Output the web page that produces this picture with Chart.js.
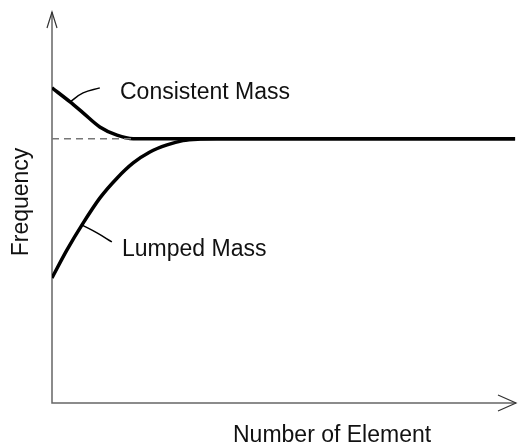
<!DOCTYPE html>
<html>
<head>
<meta charset="utf-8">
<script src="https://cdn.jsdelivr.net/npm/chart.js@4"></script>
<style>
  html, body { margin: 0; padding: 0; background: #fff; }
  #wrap { width: 526px; height: 448px; }
</style>
</head>
<body>
<div id="wrap"><canvas id="chart" width="526" height="448"></canvas></div>
<script>
// values, x and y in percent of the axis length
const consistentX = [0, 3.9, 6.7, 10.3, 14.0, 17.5, 99.8];
const consistentY = [80.6, 77.0, 74.2, 70.6, 68.5, 67.6, 67.6];
const lumpedX = [0, 3.2, 6.7, 10.3, 14.0, 17.5, 21.1, 24.8, 28.2, 31.9, 35.6, 99.8];
const lumpedY = [32.0, 39.1, 46.0, 52.4, 57.5, 61.4, 64.2, 66.0, 67.1, 67.5, 67.6, 67.6];
const limitX = [0, 17.5];
const limitY = [67.6, 67.6];
const leaderConsistentX = [10.3, 6.7, 3.9];
const leaderConsistentY = [80.6, 79.3, 77.0];
const leaderLumpedX = [6.5, 9.7, 12.9];
const leaderLumpedY = [45.5, 43.5, 41.2];
const labels = { consistent: 'Consistent Mass', lumped: 'Lumped Mass' };
const xTitle = 'Number of Element';
const yTitle = 'Frequency';

function pts(xs, ys) {
    return xs.map(function(x, i) { return { x: x, y: ys[i] }; });
}

const FONT = '23px "Liberation Sans", Arial, sans-serif';

// axes with open arrow heads, and the text
const drawing = {
    id: 'drawing',
    beforeDatasetsDraw: function(chart) {
        const ctx = chart.ctx;
        const a = chart.chartArea;
        ctx.save();
        ctx.strokeStyle = '#666';
        ctx.lineWidth = 1.5;
        ctx.beginPath();
        ctx.moveTo(a.left, a.top);
        ctx.lineTo(a.left, a.bottom);
        ctx.lineTo(a.right, a.bottom);
        ctx.stroke();
        ctx.lineWidth = 1.2;
        ctx.strokeStyle = '#333';
        ctx.beginPath();
        ctx.moveTo(a.left - 5, a.top + 16);
        ctx.lineTo(a.left, a.top);
        ctx.lineTo(a.left + 5, a.top + 16);
        ctx.moveTo(a.right - 18, a.bottom - 8);
        ctx.lineTo(a.right, a.bottom);
        ctx.lineTo(a.right - 18, a.bottom + 8);
        ctx.stroke();
        ctx.restore();
    },
    afterDraw: function(chart) {
        const ctx = chart.ctx;
        const a = chart.chartArea;
        ctx.save();
        ctx.fillStyle = '#111';
        ctx.font = FONT;
        ctx.textBaseline = 'alphabetic';
        ctx.textAlign = 'left';
        ctx.fillText(labels.consistent, a.left + 68, 99);
        ctx.fillText(labels.lumped, a.left + 70, 256);
        ctx.fillText(xTitle, 233, 442);
        ctx.translate(28, 202);
        ctx.rotate(-Math.PI / 2);
        ctx.textAlign = 'center';
        ctx.fillText(yTitle, 0, 0);
        ctx.restore();
    }
};

const curve = { borderColor: '#000', pointRadius: 0, fill: false, cubicInterpolationMode: 'monotone' };

new Chart(document.getElementById('chart'), {
    type: 'line',
    data: {
        datasets: [
            { data: pts(limitX, limitY), borderColor: '#777', borderWidth: 1.5, borderDash: [7, 5], pointRadius: 0, tension: 0 },
            Object.assign({}, curve, { data: pts(lumpedX, lumpedY), borderWidth: 3.5 }),
            Object.assign({}, curve, { data: pts(consistentX, consistentY), borderWidth: 3.5 }),
            Object.assign({}, curve, { data: pts(leaderConsistentX, leaderConsistentY), borderWidth: 1.5, cubicInterpolationMode: 'default', tension: 0.4 }),
            Object.assign({}, curve, { data: pts(leaderLumpedX, leaderLumpedY), borderWidth: 1.5, cubicInterpolationMode: 'default', tension: 0.4 })
        ]
    },
    options: {
        responsive: false,
        animation: false,
        events: [],
        layout: { padding: { left: 52, top: 12, right: 10, bottom: 45 } },
        plugins: { legend: { display: false }, tooltip: { enabled: false } },
        scales: {
            x: { type: 'linear', min: 0, max: 100, display: false },
            y: { type: 'linear', min: 0, max: 100, display: false }
        }
    },
    plugins: [drawing]
});
</script>
</body>
</html>
